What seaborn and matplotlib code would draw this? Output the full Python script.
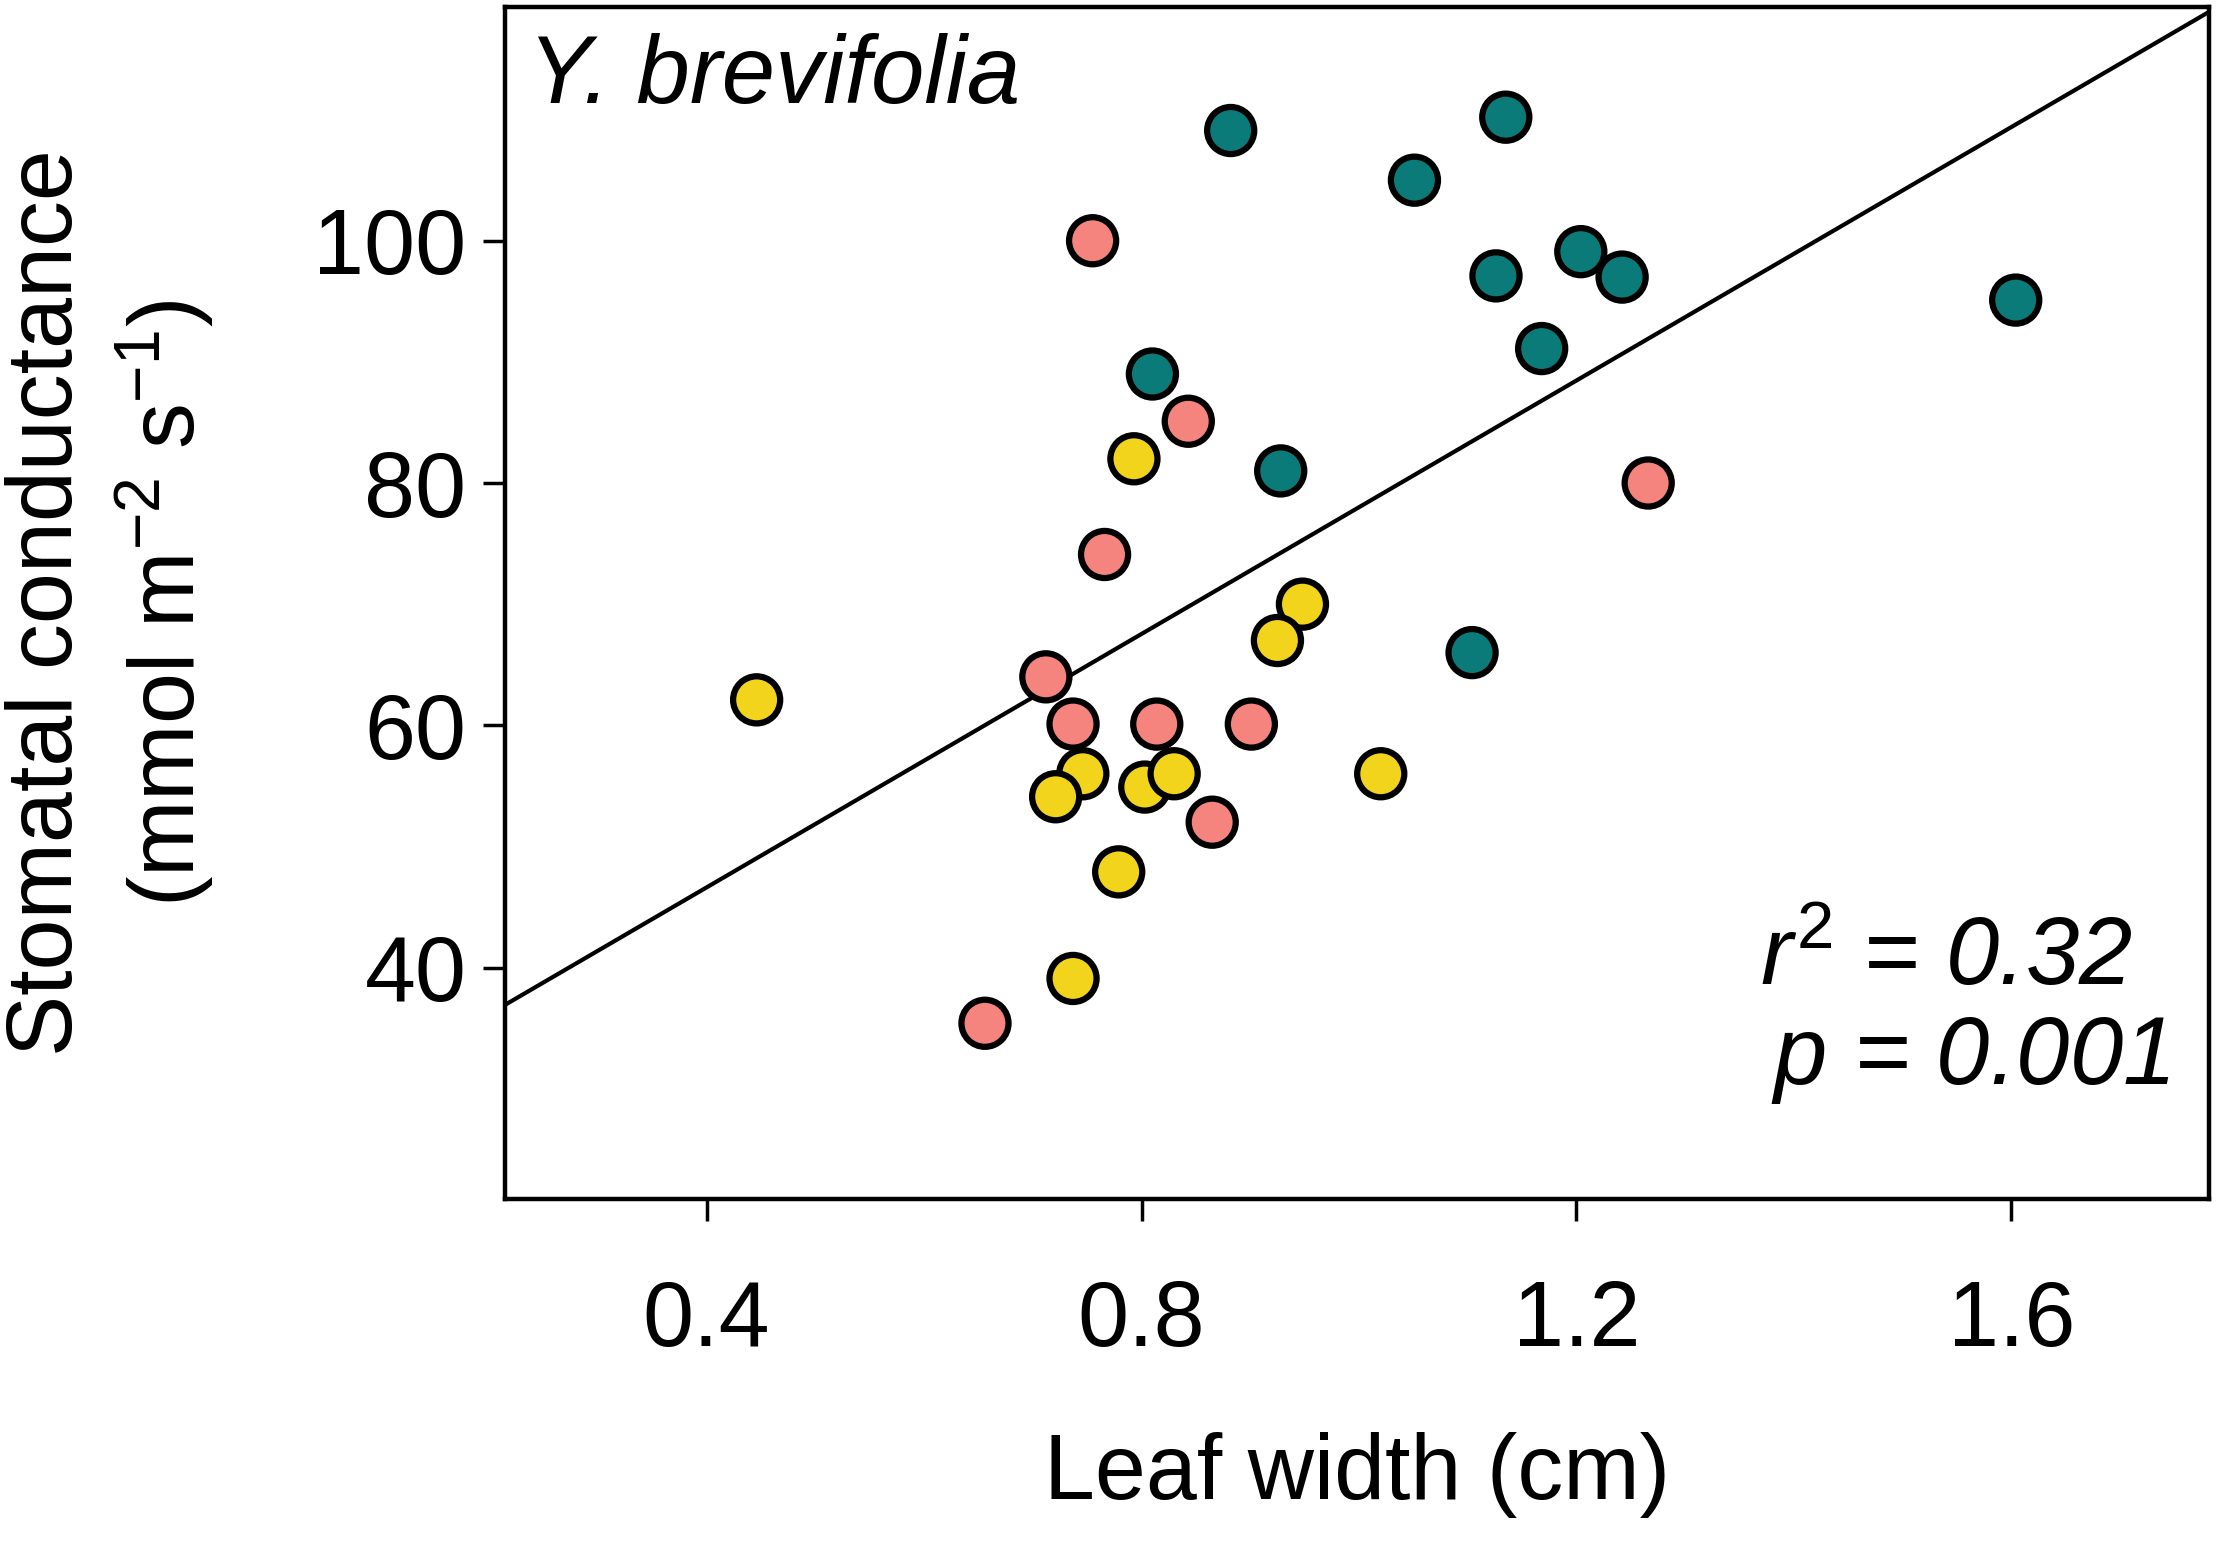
import matplotlib
matplotlib.use('Agg')
import matplotlib.pyplot as plt
import seaborn as sns
import pandas as pd

# -------------------------------------------------------
# Data
# -------------------------------------------------------
teal_width = [0.882, 1.135, 1.051, 1.126, 1.204, 1.242, 1.168, 1.604, 0.810, 0.928, 1.104]
teal_gs = [109.1, 110.2, 105.0, 97.1, 99.1, 97.0, 91.1, 95.1, 89.0, 81.0, 66.0]

pink_width = [0.755, 0.843, 0.766, 1.266, 0.712, 0.737, 0.814, 0.901, 0.865, 0.656]
pink_gs = [100.0, 85.1, 74.1, 80.0, 64.0, 60.1, 60.1, 60.1, 52.0, 35.4]

yellow_width = [0.446, 0.793, 0.948, 0.925, 0.746, 0.721, 0.803, 0.830, 1.020, 0.779, 0.737]
yellow_gs = [62.1, 82.0, 70.0, 67.0, 56.0, 54.1, 54.9, 56.0, 56.0, 47.9, 39.1]

group_names = ["teal", "pink", "yellow"]
group_colors = ["#0b7b7a", "#f5847f", "#f3d41c"]

x_ticks = [0.4, 0.8, 1.2, 1.6]
y_ticks = [40, 60, 80, 100]

df = pd.DataFrame({
    "width": teal_width + pink_width + yellow_width,
    "gs": teal_gs + pink_gs + yellow_gs,
    "group": (["teal"] * len(teal_width) + ["pink"] * len(pink_width)
              + ["yellow"] * len(yellow_width)),
})

sns.set_style("white")
plt.rcParams['font.family'] = ['Liberation Sans', 'DejaVu Sans']
plt.rcParams['text.color'] = 'black'
plt.rcParams['axes.labelcolor'] = 'black'
plt.rcParams['mathtext.fontset'] = 'custom'
plt.rcParams['mathtext.rm'] = 'Liberation Sans'
plt.rcParams['mathtext.it'] = 'Liberation Sans:italic'

FS = 66

fig = plt.figure(figsize=(22.17, 15.46), dpi=100)
ax = fig.add_axes([0.228, 0.2245, 0.7685, 0.771])
ax.set_xlim(0.215, 1.782)
ax.set_ylim(20.9, 119.3)

# regression line first, markers on top
sns.regplot(data=df, x="width", y="gs", scatter=False, ci=None, truncate=False,
            color="black", line_kws={"linewidth": 3, "zorder": 1}, ax=ax)

sns.scatterplot(data=df, x="width", y="gs", hue="group", hue_order=group_names,
                palette=dict(zip(group_names, group_colors)), s=1150,
                edgecolor="black", linewidth=4.5, legend=False, zorder=3, ax=ax)

ax.set_xlim(0.215, 1.782)
ax.set_ylim(20.9, 119.3)
ax.set_xticks(x_ticks)
ax.set_xticklabels([f"{v:.1f}" for v in x_ticks])
ax.set_yticks(y_ticks)
ax.tick_params(axis="both", direction="out", length=16, width=2.5,
               labelsize=FS, colors="black", pad=12, bottom=True, left=True)
ax.tick_params(axis="x", pad=42)

for sp in ax.spines.values():
    sp.set_visible(True)
    sp.set_color("black")
    sp.set_linewidth(3.2)

ax.set_xlabel("Leaf width (cm)", fontsize=FS, labelpad=48)
ax.set_ylabel("Stomatal conductance\n(mmol m$^{-2}$ s$^{-1}$)", fontsize=FS,
              labelpad=70, linespacing=1.27)

ax.text(0.013, 0.978, "Y. brevifolia", transform=ax.transAxes, fontsize=69,
        fontstyle="italic", ha="left", va="top")
ax.text(0.955, 0.163, "$r^{2}$ = 0.32", transform=ax.transAxes, fontsize=69,
        fontstyle="italic", ha="right", va="bottom")
ax.text(0.977, 0.078, "$p$ = 0.001", transform=ax.transAxes, fontsize=69,
        fontstyle="italic", ha="right", va="bottom")

fig.savefig("out.png", dpi=100)
